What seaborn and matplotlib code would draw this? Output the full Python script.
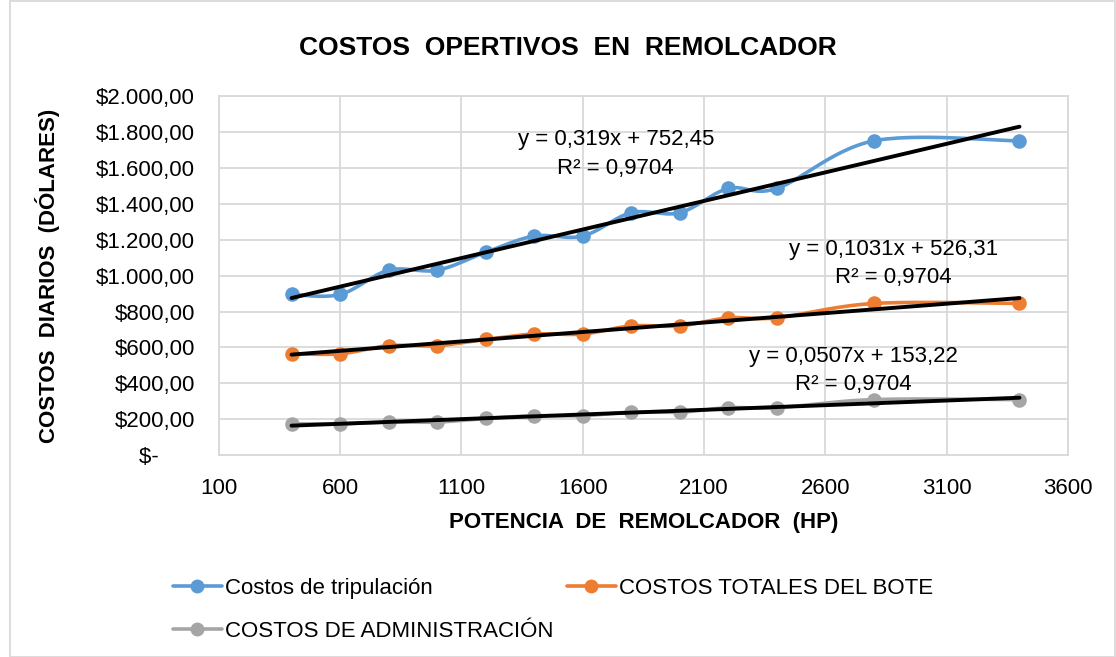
import matplotlib
matplotlib.use("Agg")
import matplotlib.pyplot as plt
import numpy as np
import pandas as pd
import seaborn as sns
from matplotlib.lines import Line2D
from matplotlib.patches import Rectangle

# datos
potencia = [400, 600, 800, 1000, 1200, 1400, 1600, 1800, 2000, 2200, 2400, 2800, 3400]
tripulacion = [895, 895, 1030, 1030, 1130, 1220, 1220, 1350, 1350, 1485, 1485, 1750, 1750]
totales_bote = [565, 565, 610, 610, 645, 675, 675, 720, 720, 765, 765, 845, 845]
administracion = [175, 175, 185, 185, 205, 220, 220, 240, 240, 265, 265, 310, 310]

series = ["Costos de tripulación", "COSTOS TOTALES DEL BOTE", "COSTOS DE ADMINISTRACIÓN"]
colores = ["#5B9BD5", "#ED7D31", "#A5A5A5"]
ecuaciones = ["y = 0,319x + 752,45\nR² = 0,9704",
              "y = 0,1031x + 526,31\nR² = 0,9704",
              "y = 0,0507x + 153,22\nR² = 0,9704"]
pos_ecuaciones = [(1736, 1677), (2880, 1068), (2715, 473)]

x_ticks = [100, 600, 1100, 1600, 2100, 2600, 3100, 3600]
y_ticks = list(range(0, 2001, 200))


def suavizar(x, y, n=30):
    # curva suavizada tipo Excel (Catmull-Rom con beziers)
    x = np.asarray(x, float)
    y = np.asarray(y, float)
    px = np.concatenate([[x[0]], x, [x[-1]]])
    py = np.concatenate([[y[0]], y, [y[-1]]])
    xs, ys = [], []
    t = np.linspace(0, 1, n)
    for i in range(1, len(px) - 2):
        p0 = np.array([px[i], py[i]])
        p3 = np.array([px[i + 1], py[i + 1]])
        c1 = p0 + (np.array([px[i + 1], py[i + 1]]) - np.array([px[i - 1], py[i - 1]])) / 6
        c2 = p3 - (np.array([px[i + 2], py[i + 2]]) - np.array([px[i], py[i]])) / 6
        b = ((1 - t) ** 3)[:, None] * p0 + (3 * (1 - t) ** 2 * t)[:, None] * c1 \
            + (3 * (1 - t) * t ** 2)[:, None] * c2 + (t ** 3)[:, None] * p3
        xs.extend(b[:, 0])
        ys.extend(b[:, 1])
    return xs, ys


def formato(v):
    if v == 0:
        return "$-      "
    return "$" + f"{v:,.2f}".replace(",", "X").replace(".", ",").replace("X", ".")


sns.set_style("white")
plt.rcParams["font.family"] = ["Liberation Sans", "DejaVu Sans"]
plt.rcParams["text.color"] = "black"
plt.rcParams["axes.labelcolor"] = "black"
plt.rcParams["xtick.color"] = "black"
plt.rcParams["ytick.color"] = "black"

fig = plt.figure(figsize=(11.16, 6.57), dpi=100)
ax = fig.add_axes([0.196, 0.307, 0.761, 0.547])

for nombre, valores, color in zip(series, [tripulacion, totales_bote, administracion], colores):
    xs, ys = suavizar(potencia, valores)
    sns.lineplot(x=xs, y=ys, ax=ax, color=color, linewidth=2.6, sort=False, zorder=3)
    sns.scatterplot(x=potencia, y=valores, ax=ax, color=color, s=110, linewidth=0, zorder=4)

for valores in [tripulacion, totales_bote, administracion]:
    df = pd.DataFrame({"x": potencia, "y": valores})
    sns.regplot(data=df, x="x", y="y", ax=ax, scatter=False, ci=None,
                truncate=True, color="black", line_kws={"linewidth": 2.8, "zorder": 5})

for texto, (tx, ty) in zip(ecuaciones, pos_ecuaciones):
    ax.text(tx, ty, texto, ha="center", va="center", fontsize=16, linespacing=1.45, zorder=6)

ax.set_xlim(100, 3600)
ax.set_ylim(0, 2000)
ax.set_xticks(x_ticks)
ax.set_yticks(y_ticks)
ax.set_yticklabels([formato(v) for v in y_ticks])
ax.tick_params(axis="both", labelsize=16, length=0)
ax.tick_params(axis="y", pad=17)
ax.tick_params(axis="x", pad=16)
ax.grid(True, color="#D9D9D9", linewidth=1.3)
for s in ax.spines.values():
    s.set_color("#D9D9D9")
    s.set_linewidth(1.3)

ax.set_xlabel("POTENCIA  DE  REMOLCADOR  (HP)", fontsize=16, fontweight="bold", labelpad=10)
ax.set_ylabel("COSTOS  DIARIOS  (DÓLARES)", fontsize=16, fontweight="bold", labelpad=26)
fig.text(0.509, 0.927, "COSTOS  OPERTIVOS  EN  REMOLCADOR", ha="center", va="center",
         fontsize=19, fontweight="bold")

# orden para que quede fila 1: tripulacion, bote ; fila 2: administracion
orden = [0, 2, 1]
handles = [Line2D([], [], color=colores[i], linewidth=2.6, marker="o", markersize=9) for i in orden]
fig.legend(handles, [series[i] for i in orden], loc="center left", bbox_to_anchor=(0.137, 0.0715),
           ncol=2, frameon=False, fontsize=16, handlelength=2.2, handletextpad=0.15,
           columnspacing=0.6, labelspacing=1.0)

fig.patches.append(Rectangle((0.009, 0.0), 0.99, 0.999, transform=fig.transFigure,
                             fill=False, edgecolor="#D9D9D9", linewidth=1.3))

fig.savefig("out.png", dpi=100)
